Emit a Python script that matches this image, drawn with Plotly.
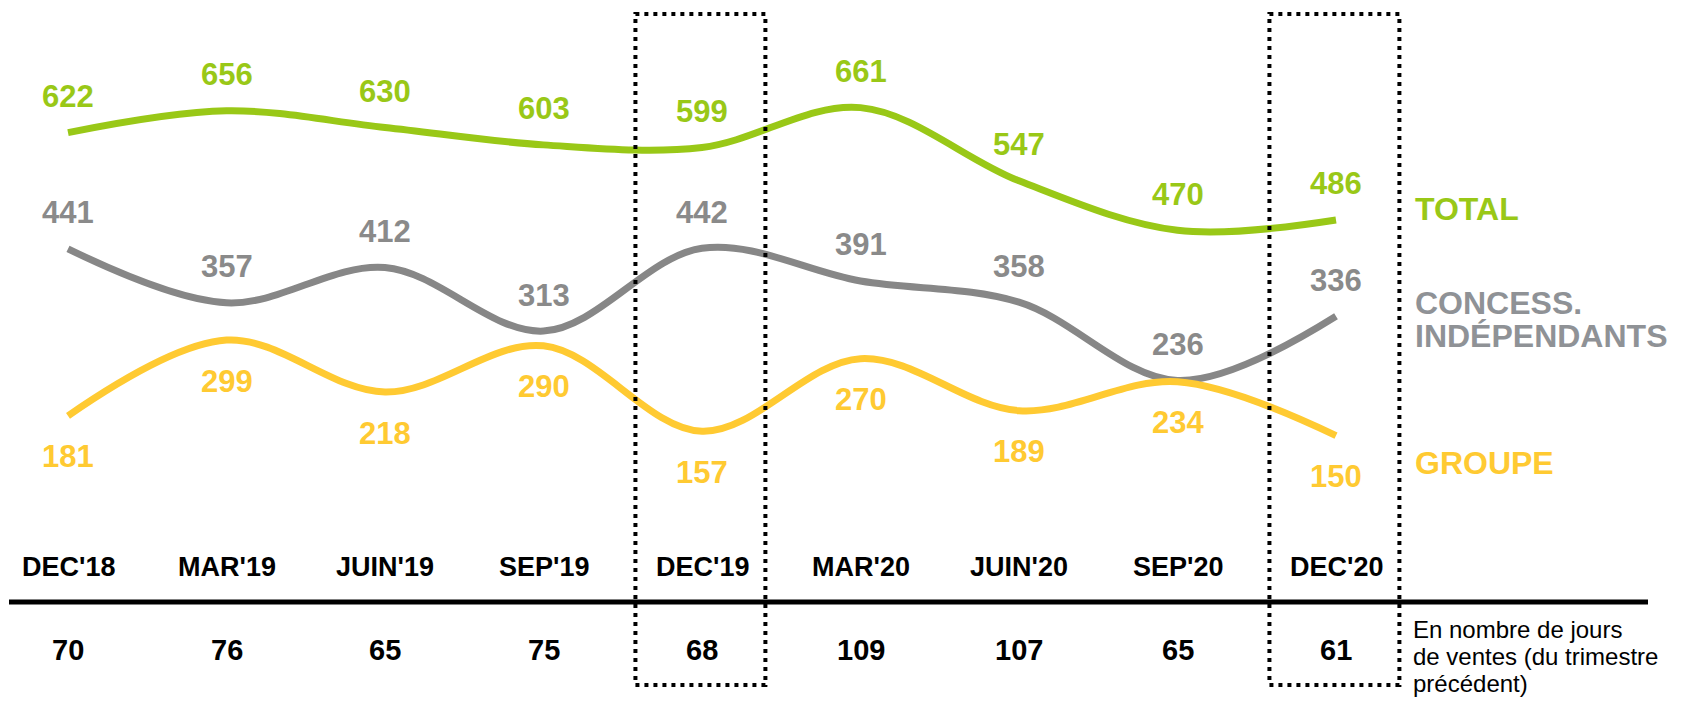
import plotly.graph_objects as go

categories = ["DEC'18", "MAR'19", "JUIN'19", "SEP'19", "DEC'19", "MAR'20", "JUIN'20", "SEP'20", "DEC'20"]
total = [622, 656, 630, 603, 599, 661, 547, 470, 486]
concess = [441, 357, 412, 313, 442, 391, 358, 236, 336]
groupe = [181, 299, 218, 290, 157, 270, 189, 234, 150]
jours = [70, 76, 65, 75, 68, 109, 107, 65, 61]
highlight = ["DEC'19", "DEC'20"]
note_lines = ["En nombre de jours", "de ventes (du trimestre", "précédent)"]

W, H = 1689, 701
GREEN = "#99C817"
GRAY = "#878787"
YELLOW = "#FFCA32"
FONT = "Arial, Liberation Sans, sans-serif"

xs = list(range(len(categories)))

fig = go.Figure()
series = [
    (total, GREEN, GREEN, -36),
    (concess, GRAY, "#8A8A8A", -36),
    (groupe, YELLOW, YELLOW, 41),
]
annotations = []
for vals, col, tcol, off in series:
    fig.add_trace(go.Scatter(
        x=xs, y=vals, mode="lines",
        line=dict(color=col, width=7, shape="spline", smoothing=1),
        hoverinfo="skip", showlegend=False,
    ))
    for i, v in enumerate(vals):
        annotations.append(dict(
            x=i, y=v, xref="x", yref="y", text=str(v), showarrow=False,
            yshift=-off, xanchor="center", yanchor="middle",
            font=dict(family=FONT, size=31, color=tcol, weight="bold"),
        ))

def py(px):
    return 1 - px / H

for i, c in enumerate(categories):
    annotations.append(dict(
        x=i, y=py(567), xref="x", yref="paper", text=c, showarrow=False,
        xanchor="center", yanchor="middle",
        font=dict(family=FONT, size=27, color="black", weight="bold"),
    ))
    annotations.append(dict(
        x=i, y=py(650), xref="x", yref="paper", text=str(jours[i]), showarrow=False,
        xanchor="center", yanchor="middle",
        font=dict(family=FONT, size=29, color="black", weight="bold"),
    ))

right_labels = [("TOTAL", 209, GREEN), ("CONCESS.", 303, "#8F9296"),
                ("INDÉPENDANTS", 336, "#8F9296"), ("GROUPE", 463, YELLOW)]
for txt, ypx, col in right_labels:
    annotations.append(dict(
        x=1413 / W, y=py(ypx), xref="paper", yref="paper", text=txt, showarrow=False,
        xanchor="left", yanchor="middle",
        font=dict(family=FONT, size=32, color=col, weight="bold")))

for k, line in enumerate(note_lines):
    annotations.append(dict(
        x=1411 / W, y=py(629 + 27 * k), xref="paper", yref="paper", text=line, showarrow=False,
        xanchor="left", yanchor="middle",
        font=dict(family=FONT, size=24, color="black")))

shapes = [dict(type="line", xref="paper", yref="paper", x0=9 / W, x1=1648 / W, y0=py(602), y1=py(602),
               line=dict(color="black", width=5))]
for h in highlight:
    i = categories.index(h)
    shapes.append(dict(type="rect", xref="x", yref="paper", x0=i - 0.42, x1=i + 0.40,
                       y0=py(685), y1=py(14), line=dict(color="black", width=4, dash="4px,5px")))

x0px, dx = 68, 158.5
y0px, dy = 532, 0.642
fig.update_layout(
    width=W, height=H, margin=dict(l=0, r=0, t=0, b=0),
    paper_bgcolor="white", plot_bgcolor="white",
    xaxis=dict(range=[-x0px / dx, (W - x0px) / dx], visible=False, fixedrange=True),
    yaxis=dict(range=[(y0px - H) / dy, y0px / dy], visible=False, fixedrange=True),
    annotations=annotations, shapes=shapes,
)

fig.write_html("out.html", config={"displayModeBar": False},
               post_script="document.body.style.margin='0';")
